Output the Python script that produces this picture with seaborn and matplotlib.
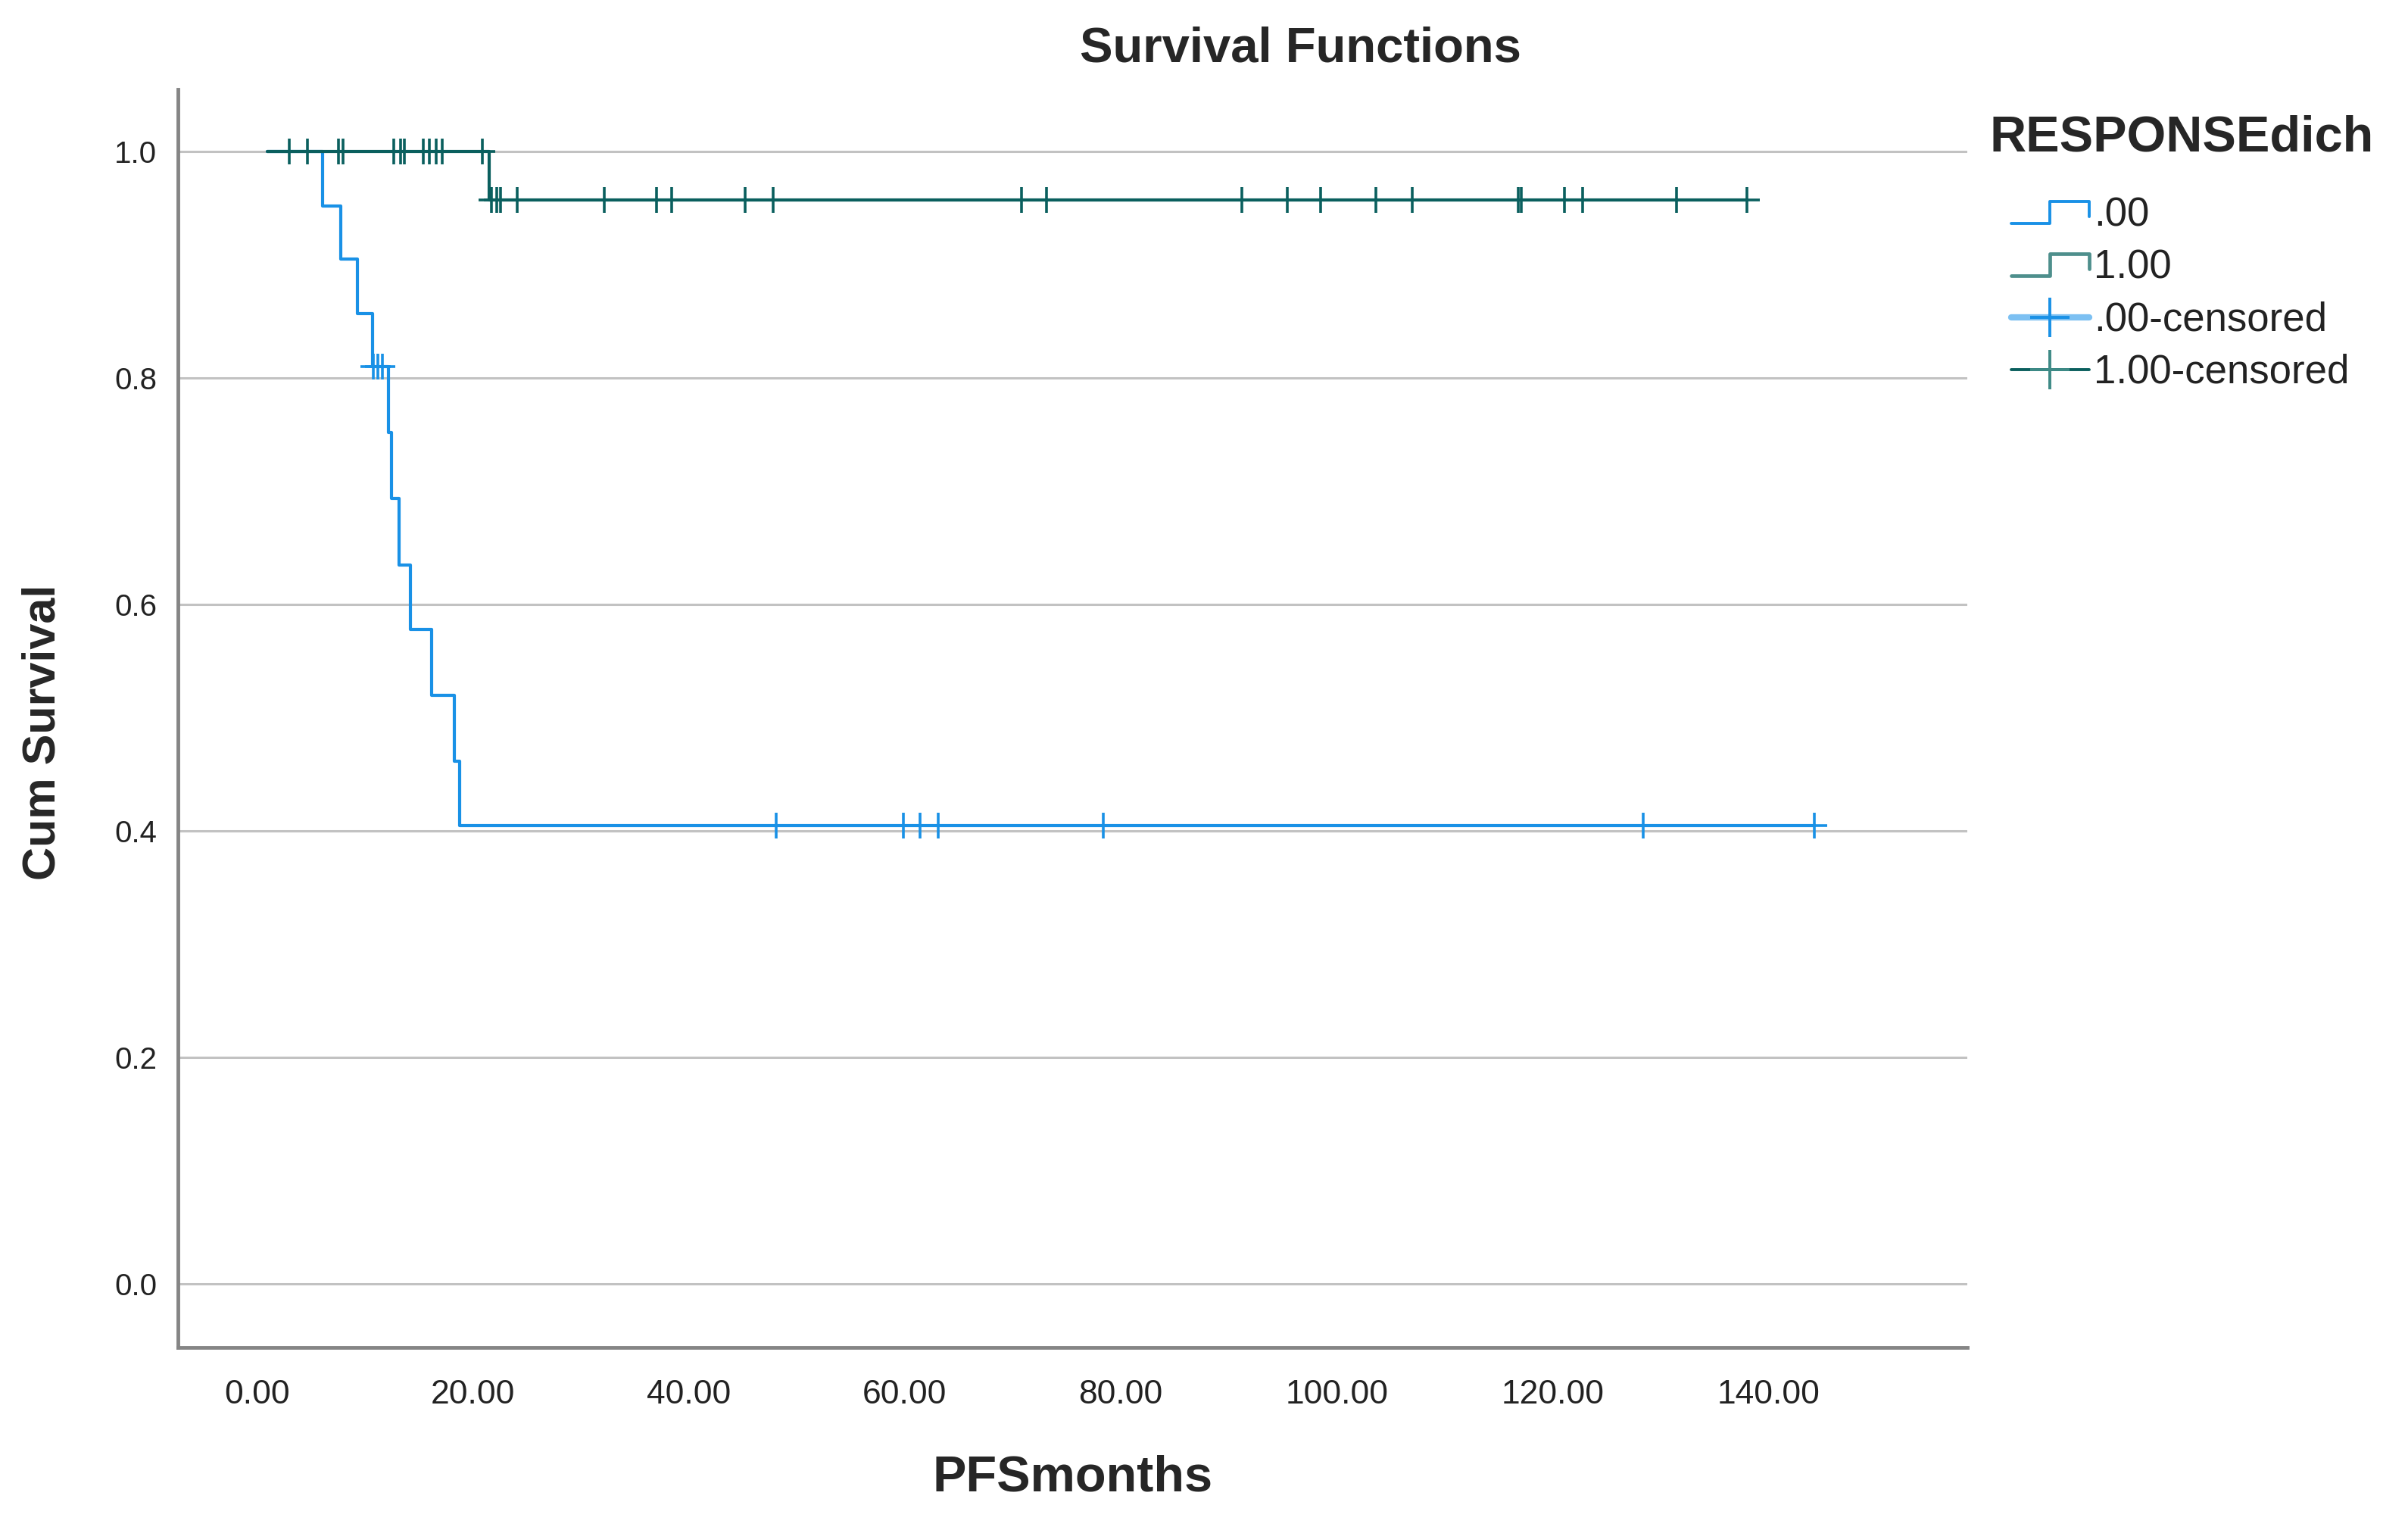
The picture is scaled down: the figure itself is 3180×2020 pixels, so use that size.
import numpy as np
import pandas as pd
import matplotlib
matplotlib.use('Agg')
import matplotlib.pyplot as plt
from matplotlib.lines import Line2D
from matplotlib.legend_handler import HandlerBase
import seaborn as sns

# Kaplan-Meier steps (months, cumulative survival)
grp0_step_t = [1.0, 6.1, 7.8, 9.3, 10.7, 12.2, 12.5, 13.2, 14.2, 16.2, 18.3, 18.8, 144.2]
grp0_step_s = [1.0, 0.952, 0.905, 0.857, 0.810, 0.752, 0.694, 0.635, 0.578, 0.520, 0.462, 0.405, 0.405]
grp1_step_t = [1.0, 21.5, 138.0]
grp1_step_s = [1.0, 0.957, 0.957]

# censored cases
grp0_cens_t = [10.8, 11.2, 11.6, 48.1, 59.9, 61.4, 63.1, 78.4, 128.4, 144.2]
grp0_cens_s = [0.810, 0.810, 0.810, 0.405, 0.405, 0.405, 0.405, 0.405, 0.405, 0.405]
grp1_cens_t = [3.0, 4.7, 7.6, 8.0, 12.7, 13.3, 13.7, 15.4, 16.0, 16.6, 17.2, 20.9,
               21.7, 22.2, 22.6, 24.1, 32.2, 37.0, 38.4, 45.2, 47.8, 70.8, 73.1,
               91.2, 95.4, 98.5, 103.6, 107.0, 116.8, 117.1, 121.1, 122.8, 131.5, 138.0]
grp1_cens_s = [1.0] * 12 + [0.957] * 22

groups = ['.00', '1.00']
x_ticks = [0, 20, 40, 60, 80, 100, 120, 140]
y_ticks = [0.0, 0.2, 0.4, 0.6, 0.8, 1.0]

BLUE = '#1991E6'
TEAL = '#0A5F5E'
pal = {'.00': BLUE, '1.00': TEAL}

surv_df = pd.DataFrame({
    'PFSmonths': grp0_step_t + grp1_step_t,
    'Cum Survival': grp0_step_s + grp1_step_s,
    'RESPONSEdich': [groups[0]] * len(grp0_step_t) + [groups[1]] * len(grp1_step_t),
})
cens_df = pd.DataFrame({
    'PFSmonths': grp0_cens_t + grp1_cens_t,
    'Cum Survival': grp0_cens_s + grp1_cens_s,
    'RESPONSEdich': [groups[0]] * len(grp0_cens_t) + [groups[1]] * len(grp1_cens_t),
})

sns.set_style('white')
plt.rcParams['font.family'] = ['Liberation Sans', 'DejaVu Sans']

fig = plt.figure(figsize=(31.8, 20.2), dpi=100)
ax = fig.add_axes([0.0739, 0.1193, 0.7431, 0.8223])

sns.lineplot(data=surv_df, x='PFSmonths', y='Cum Survival', hue='RESPONSEdich',
             palette=pal, drawstyle='steps-post', estimator=None, linewidth=3.0,
             legend=False, ax=ax)
sns.scatterplot(data=cens_df, x='PFSmonths', y='Cum Survival', hue='RESPONSEdich',
                palette=pal, marker='+', s=600, linewidth=2.6, legend=False,
                zorder=3, ax=ax)

ax.set_xlim(-7.3, 158.4)
ax.set_ylim(-0.056, 1.055)
ax.set_xticks(x_ticks)
ax.set_xticklabels([f'{v:.2f}' for v in x_ticks])
ax.set_yticks(y_ticks)
ax.set_yticklabels([f'{v:.1f}' for v in y_ticks])
ax.tick_params(axis='x', length=0, labelsize=32, pad=30, colors='#222222')
ax.tick_params(axis='y', length=0, labelsize=29, pad=20, colors='#222222')

ax.yaxis.grid(True, color='#C2C2C2', linewidth=2.2)
ax.xaxis.grid(False)
ax.set_axisbelow(True)
for side in ['top', 'right']:
    ax.spines[side].set_visible(False)
for side in ['left', 'bottom']:
    ax.spines[side].set_color('#858585')
    ax.spines[side].set_linewidth(3.5)

ax.set_xlabel('PFSmonths', fontsize=48, fontweight='bold', va='center')
ax.xaxis.set_label_coords(0.5, -0.1036)
ax.set_ylabel('Cum Survival', fontsize=44, fontweight='bold', va='center', ha='center')
ax.yaxis.set_label_coords(-0.0753, 0.489)

fig.text(0.540, 0.968, 'Survival Functions', ha='center', va='center',
         fontsize=47, fontweight='bold')


class StepHandler(HandlerBase):
    def create_artists(self, legend, orig_handle, xdescent, ydescent,
                       width, height, fontsize, trans):
        x0, y0 = -xdescent, -ydescent
        lo, hi = y0 + 0.1 * height, y0 + 0.9 * height
        xs = [x0, x0 + 0.5 * width, x0 + 0.5 * width, x0 + width, x0 + width]
        ys = [lo, lo, hi, hi, lo + 0.25 * height]
        line = Line2D(xs, ys, color=orig_handle.get_color(),
                      linewidth=orig_handle.get_linewidth(), transform=trans)
        return [line]


h0 = Line2D([], [], color=BLUE, linewidth=2.8)
h1 = Line2D([], [], color='#4E8F8C', linewidth=3.4)
h0c = Line2D([], [], color='#7CC0F2', linewidth=6, marker='+', markersize=38,
             markeredgewidth=2.8, markeredgecolor=BLUE)
h1c = Line2D([], [], color=TEAL, linewidth=2.8, marker='+', markersize=38,
             markeredgewidth=2.8, markeredgecolor='#3E8A86')

fig.text(0.8264, 0.9095, 'RESPONSEdich', ha='left', va='center',
         fontsize=48, fontweight='bold')
fig.legend([h0, h1, h0c, h1c], ['.00', '1.00', '.00-censored', '1.00-censored'],
           handler_map={h0: StepHandler(), h1: StepHandler()},
           loc='upper left', bbox_to_anchor=(0.8352, 0.8713),
           bbox_transform=fig.transFigure, frameon=False, fontsize=38,
           handlelength=1.95, handleheight=0.7, handletextpad=0.12,
           labelspacing=0.36, borderpad=0, borderaxespad=0,
           labelcolor='#222222')

fig.savefig('out.png', dpi=100)
